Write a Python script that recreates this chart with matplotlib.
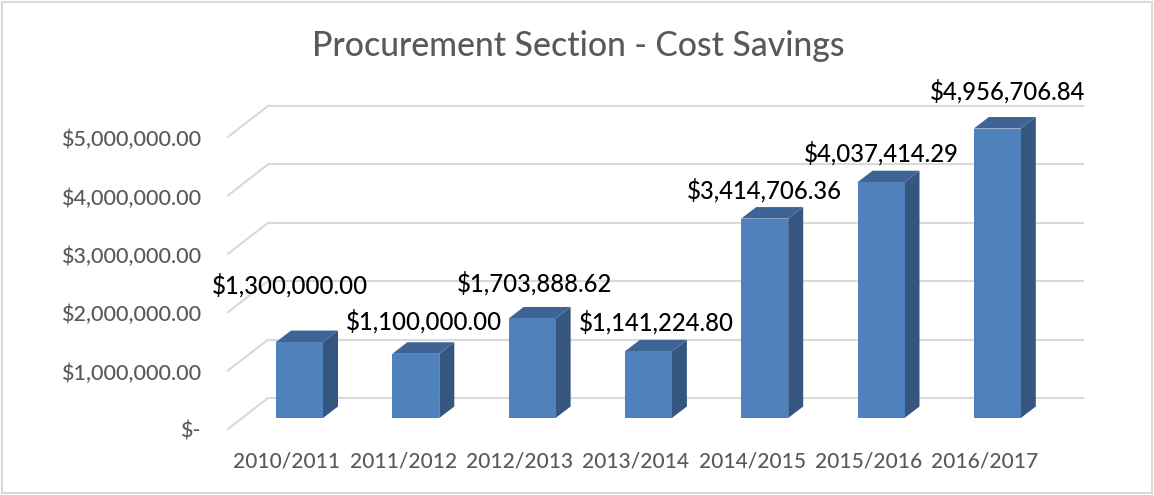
import matplotlib
matplotlib.use('Agg')
import matplotlib.pyplot as plt
from matplotlib.patches import Polygon, Rectangle
import numpy as np

plt.rcParams['font.family'] = ['Lato', 'DejaVu Sans']
plt.rcParams['font.weight'] = 'medium'

# data
years = ['2010/2011', '2011/2012', '2012/2013', '2013/2014',
         '2014/2015', '2015/2016', '2016/2017']
savings = [1300000.00, 1100000.00, 1703888.62, 1141224.80,
           3414706.36, 4037414.29, 4956706.84]
ticks = [0, 1000000, 2000000, 3000000, 4000000, 5000000]
title = 'Procurement Section - Cost Savings'

def money(v):
    return '$-' if v == 0 else '${:,.2f}'.format(v)

# layout: one pixel in data units
PX = 1 / 116.3        # x (category units)
PY = 1 / 58.4e-6      # y (dollars)
W = 47 * PX           # bar width
DX, DY = 15 * PX, 11.5 * PY   # bar depth
BACK_DY = 20 * PY     # back wall shift
FLOOR_DX, FLOOR_DY = 40 * PX, 31 * PY
# manual label nudges (pixels) as placed in the original
lab_dx = [-10, 8, 2, 8, 0, 0, 10]
lab_dy = [49, 24, 27, 21, 20, 21, 29]

front_c = '#4F81BD'
side_c = '#34567F'
top_c = '#3D6494'
grid_c = '#D9D9D9'
text_c = '#595959'

fig = plt.figure(figsize=(11.54, 4.95), dpi=100)
ax = fig.add_axes([0, 0, 1, 1])
ax.set_xlim(-299.5 * PX, (1154 - 299.5) * PX)
ax.set_ylim(-(495 - 418) * PY, 418 * PY)
ax.axis('off')

x = np.arange(len(years))
x_back0 = x[0] - 31.5 * PX
x_back1 = x[-1] + 85.5 * PX

# back wall gridlines + floor diagonals
for t in ticks:
    yb = t + BACK_DY
    ax.plot([x_back0, x_back1], [yb, yb], color=grid_c, lw=1.5, zorder=1)
    ax.plot([x_back0 - FLOOR_DX, x_back0], [yb - FLOOR_DY, yb],
            color=grid_c, lw=1.5, zorder=1)
    ax.text(x_back0 - FLOOR_DX - 27 * PX, yb - FLOOR_DY - 3 * PY, money(t),
            ha='right', va='center', fontsize=15.5, color=text_c)

# bars with fake depth
ax.bar(x, savings, width=W, color=front_c, zorder=4)
for xi, v in zip(x, savings):
    r = xi + W / 2
    l = xi - W / 2
    ax.add_patch(Polygon([(r, 0), (r + DX, DY), (r + DX, v + DY), (r, v)],
                         closed=True, facecolor=side_c, edgecolor='none', zorder=3))
    ax.add_patch(Polygon([(l, v), (r, v), (r + DX, v + DY), (l + DX, v + DY)],
                         closed=True, facecolor=top_c, edgecolor='none', zorder=3))

# value labels
for xi, v, dx, dy in zip(x, savings, lab_dx, lab_dy):
    ax.annotate(money(v), (xi, v), xytext=(dx, dy), textcoords='offset pixels',
                ha='center', va='baseline', fontsize=17.2, color='black', zorder=6)

# category labels
for xi, lab in zip(x, years):
    ax.text(xi - 12.5 * PX, -49 * PY, lab, ha='center', va='baseline',
            fontsize=15, color=text_c)

ax.text(578 * PX - 299.5 * PX, (418 - 56) * PY, title, ha='center',
        va='baseline', fontsize=24.3, color=text_c)

fig.patches.append(Rectangle((1.5 / 1154, 2 / 495), 1150 / 1154, 491 / 495,
                             fill=False, edgecolor=grid_c, lw=1.5,
                             transform=fig.transFigure, figure=fig))

fig.savefig('out.png', dpi=100)
